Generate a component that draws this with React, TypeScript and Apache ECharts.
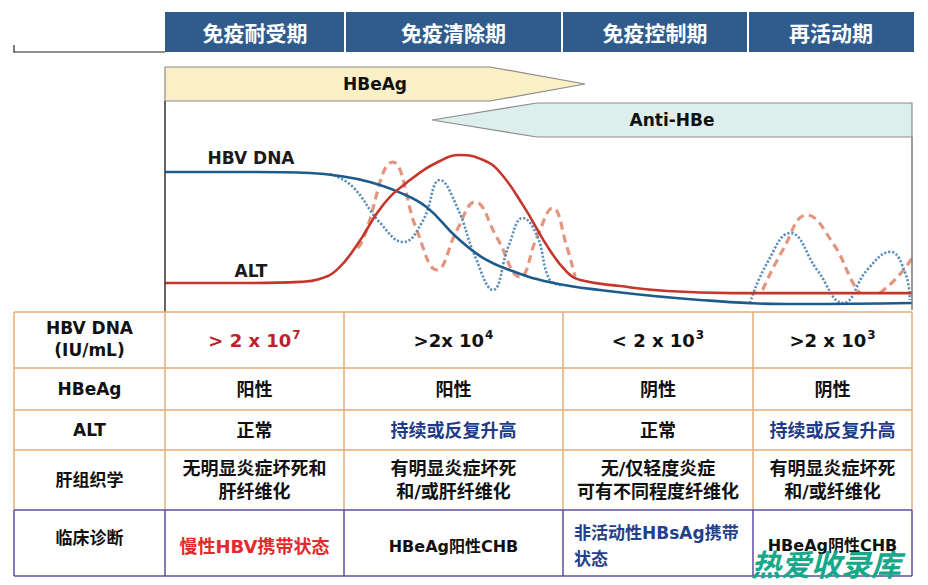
import React, { useEffect, useRef } from "react";
import * as echarts from "echarts";

// ---------- data ----------
const phases = ["免疫耐受期", "免疫清除期", "免疫控制期", "再活动期"];

// HBV DNA main curve (x: time 0-100, y: level 0-100)
const dnaX = [0, 11.4, 19.4, 23.4, 27.4, 31.3, 35, 39, 42.4, 46.1, 51.4, 58.2, 71.6, 85, 100];
const dnaY = [65.7, 65.7, 65.2, 63.8, 60.9, 56, 48.8, 34.3, 24.6, 18.4, 12.6, 8.7, 3.9, 1.9, 2.4];

// ALT main curve
const altX = [0, 11.4, 18.1, 20.7, 23, 25.7, 29.2, 32.8, 36.8, 39.5, 42.6, 44.8, 47.9, 51.5, 53.8, 55.6, 60.9, 67.2, 76, 100];
const altY = [12.1, 12.1, 12.6, 14, 18.4, 30.4, 49.8, 61.8, 71, 73.9, 71.5, 65.7, 49.8, 28, 17.4, 13.5, 10.6, 8.2, 7.2, 7.2];

// HBV DNA fluctuation (clearance phase)
const dnaFluct1X = [22.1, 25, 28.8, 31.9, 34.5, 36.8, 39.1, 41.5, 43.9, 46, 47.9, 49.8, 51.5, 53.1];
const dnaFluct1Y = [64.7, 59, 41.1, 31.9, 42, 61.8, 48.8, 25, 8.7, 30, 43.5, 35, 13.5, 11.1];

// ALT fluctuation (clearance phase)
const altFluct1X = [25.8, 26.5, 30.5, 33.7, 36.4, 39.1, 41.5, 44.4, 47.5, 49.8, 51.9, 53.8, 54.9];
const altFluct1Y = [29, 32.9, 70.5, 37.7, 18.4, 37.7, 51.2, 34.3, 15, 34.3, 48.3, 29.5, 15];

// HBV DNA fluctuation (reactivation phase)
const dnaFluct2X = [78.3, 80.6, 83.7, 87.3, 90.8, 94, 97.1, 99.1, 99.7];
const dnaFluct2Y = [2.4, 21.7, 36.2, 18.4, 2.4, 18.4, 27.1, 16.9, 3.9];

// ALT fluctuation (reactivation phase)
const altFluct2X = [80, 82.7, 85.9, 89.4, 92.1, 93];
const altFluct2Y = [8.7, 28, 44.9, 31.4, 12.1, 7.2];
const altFluct3X = [95.7, 98, 100];
const altFluct3Y = [7.2, 14.7, 24];

// table
const rowHeaders = ["HBV DNA\n(IU/mL)", "HBeAg", "ALT", "肝组织学", "临床诊断"];
const dnaBase = ["> 2 x 10", ">2x 10", "< 2 x 10", ">2 x 10"];
const dnaExp = ["7", "4", "3", "3"];
const hbeagStatus = ["阳性", "阳性", "阴性", "阴性"];
const altStatus = ["正常", "持续或反复升高", "正常", "持续或反复升高"];
const histology = ["无明显炎症坏死和\n肝纤维化", "有明显炎症坏死\n和/或肝纤维化", "无/仅轻度炎症\n可有不同程度纤维化", "有明显炎症坏死\n和/或纤维化"];
const diagnosis = ["慢性HBV携带状态", "HBeAg阳性CHB", "非活动性HBsAg携带\n状态", "HBeAg阴性CHB"];

// ---------- styles ----------
const CJK = "'Noto Sans CJK SC', 'Noto Sans', sans-serif";
const MIX = "'DejaVu Sans', 'Noto Sans CJK SC', sans-serif";
const BLUE = "#1d5b8a";
const RED = "#c5362c";
const DOT_BLUE = "#5a8fbd";
const DASH_RED = "#e3957f";

const colEdges = [14, 165, 344, 563, 753, 912];
const rowEdges = [312, 368, 410, 450, 510, 576];
const headerEdges = [165, 345, 562, 748, 914];

function pairs(xs: number[], ys: number[]) {
  return xs.map((x, i) => [x, ys[i]]);
}

function txt(text: string, x: number, y: number, opts: any = {}) {
  return {
    type: "text",
    z: opts.z ?? 20,
    style: {
      text,
      x,
      y,
      fill: opts.fill ?? "#111",
      font: opts.font ?? `bold 18px ${MIX}`,
      textAlign: opts.align ?? "center",
      textVerticalAlign: "middle",
      align: opts.align ?? "center",
      verticalAlign: "middle",
      lineHeight: opts.lineHeight,
      rich: opts.rich,
    },
  };
}

function line(x1: number, y1: number, x2: number, y2: number, stroke: string, w = 1.5, z = 10) {
  return { type: "line", z, shape: { x1, y1, x2, y2 }, style: { stroke, lineWidth: w } };
}

export default function App() {
  const ref = useRef<HTMLDivElement>(null);

  useEffect(() => {
    document.body.style.margin = "0";
    const chart = echarts.init(ref.current!, null, { renderer: "svg" });

    const g: any[] = [];

    // header bar
    g.push({
      type: "rect",
      z: 5,
      shape: { x: headerEdges[0], y: 12, width: headerEdges[4] - headerEdges[0], height: 40 },
      style: { fill: "#2f5b8d" },
    });
    for (let i = 1; i < 4; i++) g.push(line(headerEdges[i], 12, headerEdges[i], 52, "#ffffff", 2, 6));
    phases.forEach((p, i) => {
      g.push(txt(p, (headerEdges[i] + headerEdges[i + 1]) / 2, 32, { fill: "#ffffff", font: `bold 21px ${CJK}` }));
    });
    // left bracket line
    g.push(line(14, 52, 165, 52, "#222", 1.2));
    g.push(line(14, 45, 14, 52.6, "#222", 1.2));

    // HBeAg arrow
    g.push({
      type: "polygon",
      z: 5,
      shape: { points: [[165, 67], [490, 67], [585, 84], [490, 101], [165, 101]] },
      style: { fill: "#fbefc6", stroke: "#8c8c8c", lineWidth: 1.2 },
    });
    g.push(txt("HBeAg", 375, 84, { font: "bold 17px 'DejaVu Sans', sans-serif" }));

    // Anti-HBe arrow
    g.push({
      type: "polygon",
      z: 5,
      shape: { points: [[912, 103], [537, 103], [432, 120], [537, 137], [912, 137]] },
      style: { fill: "#dcefec", stroke: "#8c8c8c", lineWidth: 1.2 },
    });
    g.push(txt("Anti-HBe", 672, 120, { font: "bold 17px 'DejaVu Sans', sans-serif" }));

    // chart frame lines
    g.push(line(165, 101, 165, 312, "#333", 1.5));
    g.push(line(912, 137, 912, 310, "#777", 1.5));

    // curve labels
    g.push(txt("HBV DNA", 251, 158, { font: "bold 17px 'DejaVu Sans', sans-serif", fill: "#1a1a1a" }));
    g.push(txt("ALT", 251, 271, { font: "bold 17px 'DejaVu Sans', sans-serif", fill: "#1a1a1a" }));

    // table grid
    const ORANGE = "#e2ad78";
    const PURPLE = "#5c4d9e";
    g.push({
      type: "rect",
      z: 1,
      shape: { x: colEdges[0], y: rowEdges[0], width: colEdges[5] - colEdges[0], height: rowEdges[5] - rowEdges[0] },
      style: { fill: "#ffffff" },
    });
    for (let r = 0; r < 4; r++) g.push(line(colEdges[0], rowEdges[r], colEdges[5], rowEdges[r], ORANGE, 1.5));
    for (const c of colEdges) g.push(line(c, rowEdges[0], c, rowEdges[4], ORANGE, 1.5));
    g.push(line(colEdges[0], rowEdges[4], colEdges[5], rowEdges[4], PURPLE, 1.5, 11));
    g.push(line(colEdges[0], rowEdges[5], colEdges[5], rowEdges[5], PURPLE, 1.5, 11));
    for (const c of colEdges) g.push(line(c, rowEdges[4], c, rowEdges[5], PURPLE, 1.5, 11));

    const colC = (i: number) => (colEdges[i] + colEdges[i + 1]) / 2;
    const rowC = (r: number) => (rowEdges[r] + rowEdges[r + 1]) / 2;

    // row headers
    rowHeaders.forEach((h, r) => {
      g.push(txt(h, colC(0), r === 4 ? rowC(r) - 5 : rowC(r) - (r === 0 ? 1 : 0), {
        font: r === 4 ? `bold 17px ${MIX}` : `bold 17px ${MIX}`,
        lineHeight: 22,
      }));
    });

    // row 1: HBV DNA levels with superscripts
    dnaBase.forEach((b, i) => {
      const fill = i === 0 ? "#c0202a" : "#111";
      g.push(txt(`{m|${b}}{s|${dnaExp[i]}}`, colC(i + 1), rowC(0), {
        rich: {
          m: { font: `bold 18px ${MIX}`, fill, lineHeight: 24 },
          s: { font: `bold 12px ${MIX}`, fill, verticalAlign: "top", lineHeight: 24, padding: [1, 0, 0, 1] },
        },
      }));
    });

    // row 2: HBeAg
    hbeagStatus.forEach((s, i) => g.push(txt(s, colC(i + 1), rowC(1))));
    // row 3: ALT
    altStatus.forEach((s, i) =>
      g.push(txt(s, colC(i + 1), rowC(2), { fill: i % 2 === 1 ? "#1f3a86" : "#111" }))
    );
    // row 4: histology
    histology.forEach((s, i) => g.push(txt(s, colC(i + 1), rowC(3), { lineHeight: 23 })));
    // row 5: diagnosis
    g.push(txt(diagnosis[0], colC(1), rowC(4) + 3, { fill: "#e22a2a", font: `bold 18px ${MIX}` }));
    g.push(txt(diagnosis[1], colC(2), rowC(4) + 3, { font: `bold 16px ${MIX}` }));
    g.push(txt(diagnosis[2], colEdges[3] + 11, rowC(4) + 3, { fill: "#24408a", font: `bold 17px ${MIX}`, align: "left", lineHeight: 26 }));
    g.push(txt(diagnosis[3], colC(4), rowC(4) + 2, { font: `bold 16px ${MIX}` }));

    // watermark
    g.push(txt("热爱收录库", 826, 563, { fill: "#16a889", font: `italic bold 30px ${CJK}`, z: 30 }));

    const lineSeries = (name: string, data: number[][], color: string, type: any, width: number, z: number) => ({
      name,
      type: "line",
      data,
      smooth: 0.45,
      symbol: "none",
      z,
      lineStyle: { color, width, type, cap: "butt" },
      silent: true,
    });

    const DOTS = [2.2, 1.8];
    const DASHES = [8, 5];

    chart.setOption({
      animation: false,
      backgroundColor: "#ffffff",
      grid: { left: 165, right: 16, top: 101, bottom: 277 },
      xAxis: { type: "value", min: 0, max: 100, show: false },
      yAxis: { type: "value", min: 0, max: 100, show: false },
      series: [
        lineSeries("ALT波动", pairs(altFluct1X, altFluct1Y), DASH_RED, DASHES, 3.2, 2),
        lineSeries("ALT波动2", pairs(altFluct2X, altFluct2Y), DASH_RED, DASHES, 3.2, 2),
        lineSeries("ALT波动3", pairs(altFluct3X, altFluct3Y), DASH_RED, DASHES, 3.2, 2),
        lineSeries("HBV DNA波动", pairs(dnaFluct1X, dnaFluct1Y), DOT_BLUE, DOTS, 2.6, 3),
        lineSeries("HBV DNA波动2", pairs(dnaFluct2X, dnaFluct2Y), DOT_BLUE, DOTS, 2.6, 3),
        lineSeries("HBV DNA", pairs(dnaX, dnaY), BLUE, "solid", 2.6, 4),
        lineSeries("ALT", pairs(altX, altY), RED, "solid", 2.6, 4),
      ],
      graphic: g,
    });

    return () => chart.dispose();
  }, []);

  return <div ref={ref} style={{ width: 928, height: 585 }} />;
}
